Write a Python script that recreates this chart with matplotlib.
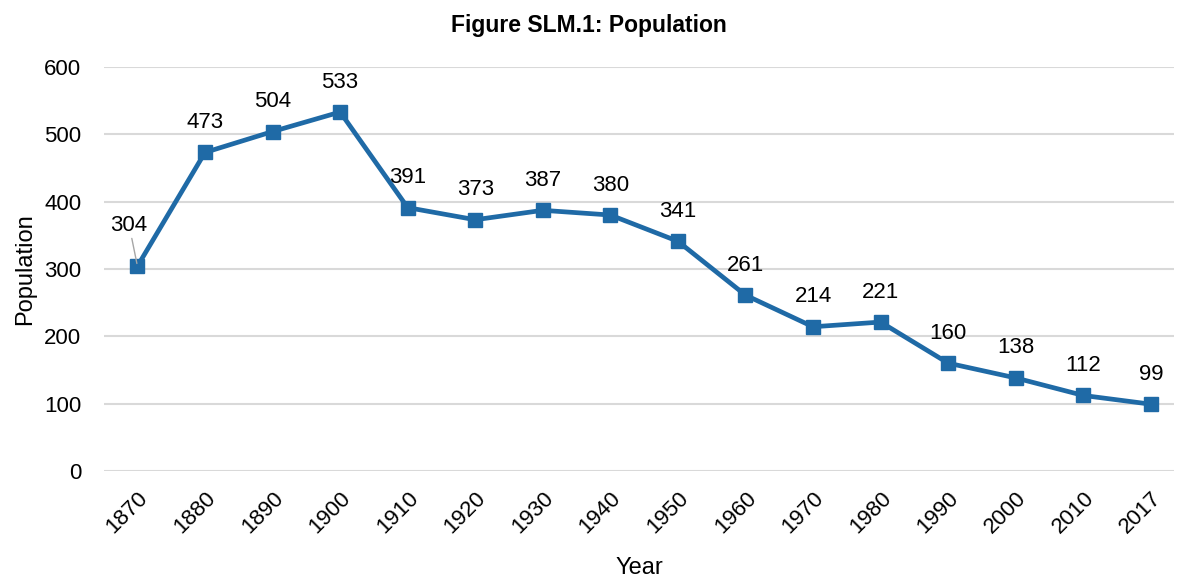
import matplotlib.pyplot as plt

years = ["1870", "1880", "1890", "1900", "1910", "1920", "1930", "1940",
         "1950", "1960", "1970", "1980", "1990", "2000", "2010", "2017"]
population = [304, 473, 504, 533, 391, 373, 387, 380,
              341, 261, 214, 221, 160, 138, 112, 99]

plt.rcParams['font.family'] = ['Liberation Sans', 'DejaVu Sans']

fig = plt.figure(figsize=(11.78, 5.77), dpi=100)
ax = fig.add_axes([0.088, 0.184, 0.909, 0.7])

color = "#1f6aa6"
x = list(range(len(years)))
ax.plot(x, population, color=color, linewidth=3.4, marker="s",
        markersize=10, zorder=3)

for i, v in enumerate(population):
    if i == 0:
        ax.annotate(str(v), (i, v), xytext=(-6, 22), textcoords="offset points",
                    ha="center", va="bottom", fontsize=16,
                    arrowprops=dict(arrowstyle="-", color="#a6a6a6", lw=1,
                                    shrinkA=0, shrinkB=2))
    else:
        ax.annotate(str(v), (i, v), xytext=(0, 14), textcoords="offset points",
                    ha="center", va="bottom", fontsize=16)

ax.set_xlim(-0.5, 15.35)
ax.set_ylim(0, 600)
ax.set_yticks(range(0, 601, 100))
ax.set_xticks(x)
ax.set_xticklabels(years, rotation=45, ha="right", rotation_mode="anchor")
ax.tick_params(axis="both", length=0, labelsize=16)
ax.tick_params(axis="x", pad=12)
ax.tick_params(axis="y", pad=16)
ax.grid(axis="y", color="#d9d9d9", linewidth=1.5)
ax.set_axisbelow(True)
for s in ax.spines.values():
    s.set_visible(False)

ax.set_xlabel("Year", fontsize=17, labelpad=14)
ax.set_ylabel("Population", fontsize=17, labelpad=6)
fig.suptitle("Figure SLM.1: Population", fontsize=16.5, fontweight="bold",
             y=0.975)

fig.savefig("out.png", dpi=100)
